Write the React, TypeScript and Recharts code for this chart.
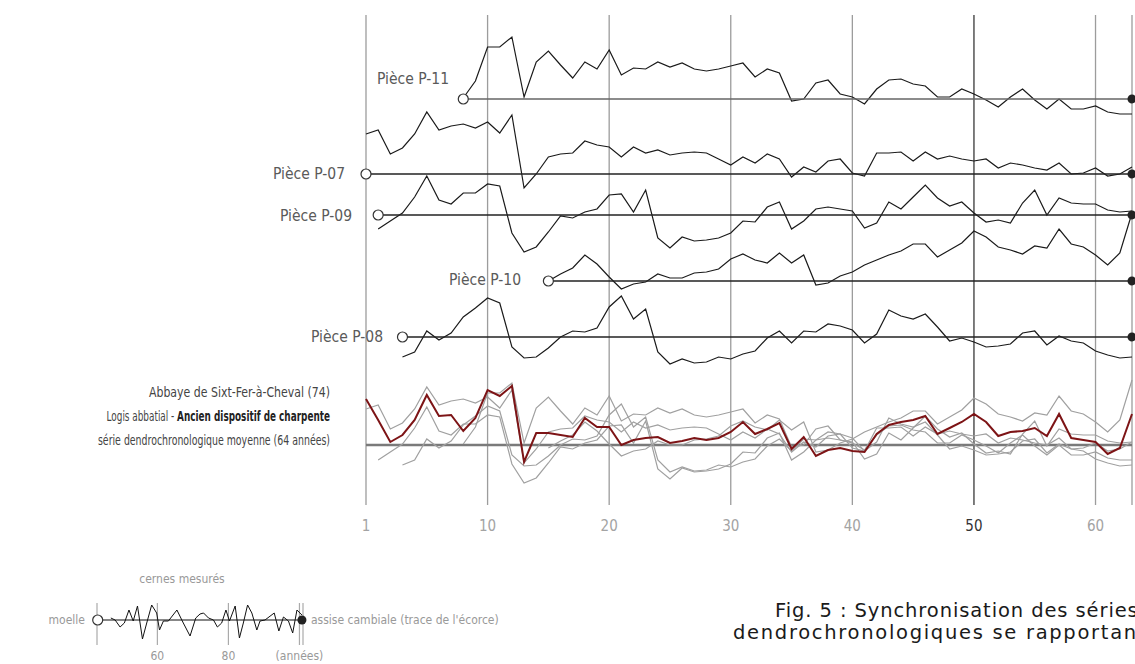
import React from "react";
import {
  LineChart,
  Line,
  XAxis,
  YAxis,
  CartesianGrid,
  ReferenceLine,
} from "recharts";

// --- axis ticks (ring numbers) ---
const tickYears = [1, 11, 21, 31, 41, 51, 61];
const tickLabels = ["1", "10", "20", "30", "40", "50", "60"];
const LAST_YEAR = 64;

// --- ring width indices (deviation from each baseline) ---
const p11Start = 9;
const p11Values = [
  1, 18, 52, 52, 62, 2, 37, 48, 34, 21,
  37, 30, 49, 24, 31, 30, 37, 32, 36, 30,
  28, 30, 33, 36, 22, 30, 26, -2, 0, 16,
  19, 5, 2, -5, 10, 19, 20, 15, 13, 2,
  2, 10, 5, -1, -8, 2, 10, -1, -10, 0,
  -10, -10, -7, -13, -15, -15,
];

const p07Start = 1;
const p07Values = [
  40, 44, 20, 26, 40, 62, 44, 48, 50, 46,
  52, 41, 59, -14, 0, 17, 20, 21, 33, 29,
  27, 17, 27, 21, 24, 19, 21, 22, 21, 15,
  9, 17, 11, 20, 15, -3, 7, 2, 13, 15,
  1, -2, 21, 21, 22, 13, 22, 15, 18, 15,
  13, 15, 6, 11, 9, 6, 4, 11, 0, 1,
  6, -2, 0, 7,
];

const p09Start = 2;
const p09Values = [
  -14, -6, 2, 18, 39, 15, 11, 22, 22, 31,
  29, -18, -37, -32, -17, -1, -3, 3, 6, 20,
  21, 3, 25, -23, -33, -22, -26, -25, -23, -18,
  -6, -7, 8, 13, -14, -6, 6, 8, 6, 4,
  -13, -8, 13, 6, 18, 30, 17, 9, 13, 2,
  -7, -5, -8, 12, 25, 0, 17, 12, 11, 11,
  5, 3, 4,
];

const p10Start = 16;
const p10Values = [
  0, 7, 13, 26, 17, 4, -8, -3, -1, 7,
  3, 3, 8, 9, 12, 22, 27, 21, 18, 28,
  18, 26, -4, -2, 5, 9, 16, 21, 26, 30,
  37, 37, 24, 31, 38, 50, 44, 34, 31, 27,
  35, 33, 52, 37, 34, 26, 16, 28, 68,
];

const p08Start = 4;
const p08Values = [
  -20, -15, 6, -3, 4, 20, 29, 39, 34, -10,
  -21, -20, -11, 0, 6, 5, 9, 30, 41, 18,
  28, -15, -27, -22, -26, -25, -20, -22, -17, -14,
  -1, 6, -6, 6, 5, 13, 11, 7, -6, 3,
  27, 21, 18, 23, 10, -4, -1, -5, -10, -9,
  -7, 4, 6, -8, 1, -4, -6, -14, -18, -21,
  -20,
];

const meanStart = 1;
const meanValues = [
  46, 25, 3, 10, 25, 50, 29, 30, 14, 27,
  55, 49, 59, -17, 12, 12, 10, 8, 27, 18,
  18, 0, 5, 7, 8, 2, 4, 7, 5, 7,
  13, 23, 11, 16, 22, -4, 8, -11, -5, -3,
  -6, -7, 11, 20, 23, 25, 29, 11, 17, 23,
  31, 23, 9, 13, 14, 17, 9, 31, 7, 5,
  3, -9, -3, 31,
];

// --- small legend diagram ---
const miniYears = [
  46.9, 48.1, 49.5, 50.7, 52.0, 53.2, 54.4, 55.8, 57.0, 58.4,
  59.8, 60.6, 61.7, 63.1, 65.5, 67.3, 69.2, 70.8, 72.0, 73.0,
  74.4, 75.8, 76.9, 78.1, 79.3, 80.3, 81.9, 83.1, 84.2, 85.4,
  86.6, 88.0, 88.9, 90.3, 92.9, 94.2, 95.5, 96.9, 98.1, 99.3,
  100.7,
];
const miniValues = [
  2, 0, -7, -3, 10, -1, 14, -19, -3, 15,
  7, -10, -1, -1, 10, -3, -16, 2, 6, 7,
  2, 0, -7, -3, 10, -1, 14, -18, -3, 15,
  7, -10, -1, 0, 7, -11, 3, -1, -13, 10,
  5,
];
const miniTicks = [60, 80, 100];
const miniTickLabels = ["60", "80", "(années)"];

// --- layout (pixel rows of each baseline) ---
const PLOT_BOTTOM = 505;
const PLOT_HEIGHT = 490;

const pieces = [
  { name: "Pièce P-11", start: p11Start, values: p11Values, row: 99, meanRow: 445, labelRight: 449, labelY: 79 },
  { name: "Pièce P-07", start: p07Start, values: p07Values, row: 174, meanRow: 449, labelRight: 345, labelY: 174 },
  { name: "Pièce P-09", start: p09Start, values: p09Values, row: 215, meanRow: 446, labelRight: 352, labelY: 216 },
  { name: "Pièce P-10", start: p10Start, values: p10Values, row: 281, meanRow: 448, labelRight: 521, labelY: 280 },
  { name: "Pièce P-08", start: p08Start, values: p08Values, row: 337, meanRow: 445, labelRight: 383, labelY: 337 },
];
const MEAN_ROW = 445;

const FONT = "'Liberation Sans Narrow', 'DejaVu Sans Condensed', 'Roboto Condensed', sans-serif";
const CAPTION_FONT = "'DejaVu Sans', sans-serif";

const series = (start: number, values: number[], row: number) =>
  values.map((v, i) => ({ year: start + i, v: PLOT_BOTTOM - row + v }));

const baseline = (start: number, row: number) => [
  { year: start, v: PLOT_BOTTOM - row },
  { year: LAST_YEAR, v: PLOT_BOTTOM - row },
];

const EndDot = (props: any) => {
  const { cx, cy, index } = props;
  if (index === 0) {
    return <circle key={`o-${cx}-${cy}`} cx={cx} cy={cy} r={5} fill="#fff" stroke="#333" strokeWidth={1.2} />;
  }
  return <circle key={`f-${cx}-${cy}`} cx={cx} cy={cy} r={4.5} fill="#222" />;
};

const MainTick = (props: any) => {
  const { x, y, payload } = props;
  const label = tickLabels[tickYears.indexOf(payload.value)];
  return (
    <text x={x} y={y + 26} textAnchor="middle" fontSize={15} fontFamily={FONT} fill={payload.value === 51 ? "#333" : "#a3a3a3"}>
      {label}
    </text>
  );
};

const MiniTick = (props: any) => {
  const { x, y, payload } = props;
  const label = miniTickLabels[miniTicks.indexOf(payload.value)];
  return (
    <text x={x} y={y + 15} textAnchor="middle" fontSize={12} fontFamily={FONT} fill="#999">
      {label}
    </text>
  );
};

const textBox = (right: number, y: number, size: number, w = 300): React.CSSProperties => ({
  position: "absolute",
  left: right - w,
  width: w,
  top: y - 11,
  lineHeight: "22px",
  fontSize: size,
  textAlign: "right",
  whiteSpace: "nowrap",
});

// narrower text for the site title block
const titleBox = (y: number, squeeze: number): React.CSSProperties => ({
  ...textBox(330, y, 14.5, 420),
  color: "#444",
  transform: `scaleX(${squeeze})`,
  transformOrigin: "right center",
});

const captionLine = (left: number, top: number, spacing: number): React.CSSProperties => ({
  position: "absolute",
  left,
  top,
  lineHeight: "21px",
  fontSize: 19.5,
  letterSpacing: spacing,
  fontFamily: CAPTION_FONT,
  color: "#1a1a1a",
  whiteSpace: "nowrap",
});

export default function App() {
  return (
    <div
      style={{
        position: "absolute",
        left: 0,
        top: 0,
        width: 1135,
        height: 664,
        overflow: "hidden",
        background: "#fff",
        fontFamily: FONT,
        color: "#555",
      }}
    >
      <LineChart width={1135} height={664} margin={{ top: 15, right: 3, left: 366, bottom: 129 }}>
        <CartesianGrid horizontal={false} stroke="#9c9c9c" strokeWidth={1.3} />
        <XAxis
          type="number"
          dataKey="year"
          domain={[1, LAST_YEAR]}
          ticks={tickYears}
          interval={0}
          height={30}
          axisLine={false}
          tickLine={false}
          tickSize={0}
          tickMargin={0}
          tick={(p: any) => <MainTick {...p} />}
        />
        <YAxis type="number" domain={[0, PLOT_HEIGHT]} hide />
        <ReferenceLine x={51} stroke="#5a5a5a" strokeWidth={1.3} />

        {/* mean panel */}
        <Line data={baseline(1, MEAN_ROW)} dataKey="v" stroke="#7a7a7a" strokeWidth={2.5} dot={false} isAnimationActive={false} />
        {pieces.map((p) => (
          <Line
            key={`g-${p.name}`}
            data={series(p.start, p.values, p.meanRow)}
            dataKey="v"
            stroke="#a0a0a0"
            strokeWidth={1.2}
            dot={false}
            isAnimationActive={false}
          />
        ))}
        <Line data={series(meanStart, meanValues, MEAN_ROW)} dataKey="v" stroke="#7d1416" strokeWidth={2} dot={false} isAnimationActive={false} />

        {/* individual pieces */}
        {pieces.map((p) => (
          <Line
            key={`s-${p.name}`}
            data={series(p.start, p.values, p.row)}
            dataKey="v"
            stroke="#1a1a1a"
            strokeWidth={1.2}
            dot={false}
            isAnimationActive={false}
          />
        ))}
        {pieces.map((p) => (
          <Line
            key={`b-${p.name}`}
            data={baseline(p.start, p.row)}
            dataKey="v"
            stroke={p.name === "Pièce P-11" ? "#666" : "#222"}
            strokeWidth={1.3}
            dot={EndDot}
            isAnimationActive={false}
          />
        ))}
      </LineChart>

      {pieces.map((p) => (
        <div key={`l-${p.name}`} style={{ ...textBox(p.labelRight, p.labelY, 15.5), color: "#5a5a5a" }}>
          {p.name}
        </div>
      ))}

      <div style={titleBox(392, 0.84)}>Abbaye de Sixt-Fer-à-Cheval (74)</div>
      <div style={titleBox(416, 0.68)}>
        Logis abbatial - <b style={{ color: "#222" }}>Ancien dispositif de charpente</b>
      </div>
      <div style={titleBox(440, 0.72)}>série dendrochronologique moyenne (64 années)</div>

      {/* legend diagram */}
      <div style={{ position: "absolute", left: 0, top: 590 }}>
        <LineChart width={480} height={74} margin={{ top: 13, right: 177, left: 97, bottom: 0 }}>
          <CartesianGrid horizontal={false} stroke="#aaa" strokeWidth={1.2} />
          <XAxis
            type="number"
            dataKey="x"
            domain={[43, 101]}
            ticks={miniTicks}
            interval={0}
            height={19}
            axisLine={false}
            tickLine={false}
            tickSize={0}
            tickMargin={0}
            tick={(p: any) => <MiniTick {...p} />}
          />
          <YAxis type="number" domain={[-25, 17]} hide />
          <Line
            data={miniYears.map((x, i) => ({ x, v: miniValues[i] }))}
            dataKey="v"
            stroke="#111"
            strokeWidth={1}
            dot={false}
            isAnimationActive={false}
          />
          <Line
            data={[{ x: 43.2, v: 0 }, { x: 100.7, v: 0 }]}
            dataKey="v"
            stroke="#111"
            strokeWidth={1.2}
            dot={EndDot}
            isAnimationActive={false}
          />
        </LineChart>
      </div>
      <div style={{ ...textBox(85, 620, 12), color: "#999" }}>moelle</div>
      <div style={{ position: "absolute", left: 311, top: 611, lineHeight: "18px", fontSize: 12, color: "#999", whiteSpace: "nowrap" }}>
        assise cambiale (trace de l'écorce)
      </div>
      <div style={{ position: "absolute", left: 82, width: 200, top: 570, lineHeight: "18px", fontSize: 12, color: "#999", textAlign: "center" }}>
        cernes mesurés
      </div>

      {/* caption, cut by the right edge as in the source */}
      <div style={captionLine(775, 600, 0.9)}>Fig. 5 : Synchronisation des séries</div>
      <div style={captionLine(733, 622, 1.7)}>dendrochronologiques se rapportant</div>
    </div>
  );
}
